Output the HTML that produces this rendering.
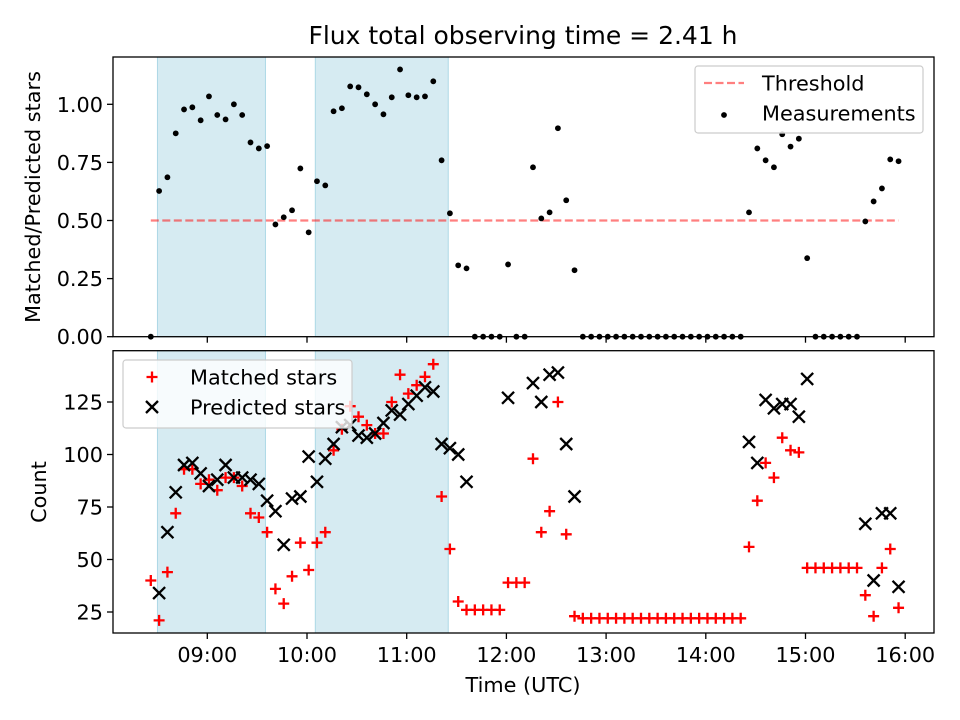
<!DOCTYPE html>
<html><head><meta charset="utf-8"><style>
html,body{margin:0;padding:0;background:#fff;}
svg{display:block;font-family:"DejaVu Sans","Liberation Sans",sans-serif;}
</style></head><body>
<svg id="fig" width="960" height="720" viewBox="0 0 960 720">
<rect width="960" height="720" fill="#fff"/>
<text x="523" y="44" font-size="25" text-anchor="middle">Flux total observing time = 2.41 h</text>
<g id="topPanel"></g>
<g id="botPanel"></g>
<text transform="translate(40,197) rotate(-90)" font-size="20.8" text-anchor="middle">Matched/Predicted stars</text>
<text transform="translate(46,492) rotate(-90)" font-size="20.8" text-anchor="middle">Count</text>
<text x="523" y="692" font-size="20.8" text-anchor="middle">Time (UTC)</text>
</svg>
<script>
const times = ["08:26","08:31","08:36","08:41","08:46","08:51","08:56",
"09:01","09:06","09:11","09:16","09:21","09:26","09:31","09:36","09:41","09:46","09:51","09:56",
"10:01","10:06","10:11","10:16","10:21","10:26","10:31","10:36","10:41","10:46","10:51","10:56",
"11:01","11:06","11:11","11:16","11:21","11:26","11:31","11:36","11:41","11:46","11:51","11:56",
"12:01","12:06","12:11","12:16","12:21","12:26","12:31","12:36","12:41","12:46","12:51","12:56",
"13:01","13:06","13:11","13:16","13:21","13:26","13:31","13:36","13:41","13:46","13:51","13:56",
"14:01","14:06","14:11","14:16","14:21","14:26","14:31","14:36","14:41","14:46","14:51","14:56",
"15:01","15:06","15:11","15:16","15:21","15:26","15:31","15:36","15:41","15:46","15:51","15:56"];
const ratio = [0,.627,.686,.875,.978,.987,.931,1.034,.954,.935,1.0,.954,.836,.81,.82,.483,.514,.544,.724,.449,
.669,.651,.97,.983,1.077,1.073,1.043,1.0,.957,1.03,1.15,1.039,1.03,1.034,1.099,.759,.531,.307,.294,
0,0,0,0,.311,0,0,.729,.509,.535,.897,.587,.286,
0,0,0,0,0,0,0,0,0,0,0,0,0,0,0,0,0,0,0,0,
.535,.81,.759,.729,.871,.818,.852,.338,
0,0,0,0,0,0,
.496,.582,.638,.763,.755];
const matched = [40,21,44,72,93,93,86,88,83,89,89,85,72,70,63,36,29,42,58,45,58,63,102,112,123,118,114,110,110,125,138,129,133,137,143,80,55,30,
26,26,26,26,26,39,39,39,
98,63,73,125,62,23,
22,22,22,22,22,22,22,22,22,22,22,22,22,22,22,22,22,22,22,22,
56,78,96,89,108,102,101,46,
46,46,46,46,46,46,
33,23,46,55,27];
const predicted = [null,34,63,82,95,96,91,85,88,95,89,89,88,86,78,73,57,79,80,99,87,98,105,113,114,109,108,110,115,121,119,124,128,132,130,105,103,100,87,
null,null,null,null,127,null,null,
134,125,138,139,105,80,
null,null,null,null,null,null,null,null,null,null,null,null,null,null,null,null,null,null,null,null,
106,96,126,122,124,124,118,136,
null,null,null,null,null,null,
67,40,72,72,37];
const xTicks = ["09:00","10:00","11:00","12:00","13:00","14:00","15:00","16:00"];
const topTicks = [0,0.25,0.5,0.75,1.0];
const botTicks = [25,50,75,100,125];
const spans = [["08:30","09:35"],["10:05","11:25"]];
const threshold = 0.5;

const NS="http://www.w3.org/2000/svg";
const L=113,R=934;
const hr=s=>{const p=s.split(":");return +p[0]+ +p[1]/60;};
const X=h=>207.3+(h-9)*99.7;
const Ytop=v=>336.7-v*232.4;
const Ybot=v=>612-(v-25)*2.1;
function mk(parent,tag,attrs){const e=document.createElementNS(NS,tag);for(const k in attrs)e.setAttribute(k,attrs[k]);parent.appendChild(e);return e;}
const topG=document.getElementById('topPanel'), botG=document.getElementById('botPanel');
const panels=[[topG,57,336.7],[botG,350.7,633]];
panels.forEach(([g,y0,y1],pi)=>{
  spans.forEach(s=>{
    const r=mk(g,'rect',{x:X(hr(s[0])),y:y0,width:X(hr(s[1]))-X(hr(s[0])),height:y1-y0,fill:'#add8e6','fill-opacity':0.5,stroke:'#add8e6','stroke-width':1});
    
    
  });
});
const th=mk(topG,'line',{x1:X(hr(times[0])),x2:X(hr(times[times.length-1])),y1:Ytop(threshold),y2:Ytop(threshold),stroke:'#ff0000','stroke-opacity':0.5,'stroke-width':2.2,'stroke-dasharray':'8,3.5'});


ratio.forEach((v,i)=>{
  const c=mk(topG,'circle',{cx:X(hr(times[i])),cy:Ytop(v),r:2.9,fill:'#000'});
  
  
});
matched.forEach((v,i)=>{
  const x=X(hr(times[i])),y=Ybot(v);
  const p=mk(botG,'path',{d:`M${x-5.5},${y}H${x+5.5}M${x},${y-5.5}V${y+5.5}`,stroke:'#ff0000','stroke-width':2.3});
  
  
});
predicted.forEach((v,i)=>{
  if(v===null)return;
  const x=X(hr(times[i])),y=Ybot(v);
  const p=mk(botG,'path',{d:`M${x-6},${y-6}L${x+6},${y+6}M${x-6},${y+6}L${x+6},${y-6}`,stroke:'#000','stroke-width':2.3});
  
  
});
panels.forEach(([g,y0,y1],pi)=>{
  const f=mk(g,'rect',{x:L,y:y0,width:R-L,height:y1-y0,fill:'none',stroke:'#000','stroke-width':1.3});
  
  
  xTicks.forEach(t=>{
    const x=X(hr(t));
    const tk=mk(g,'line',{x1:x,x2:x,y1:y1,y2:y1+6,stroke:'#000','stroke-width':1.3});
    
    
    if(pi===1){
      const tx=mk(g,'text',{x:x,y:y1+29,'font-size':20.8,'text-anchor':'middle'});
      tx.textContent=t;
      
      
    }
  });
  const ticks=pi===0?topTicks:botTicks, Y=pi===0?Ytop:Ybot;
  ticks.forEach(v=>{
    const y=Y(v);
    const tk=mk(g,'line',{x1:L-6,x2:L,y1:y,y2:y,stroke:'#000','stroke-width':1.3});
    
    
    const tx=mk(g,'text',{x:L-10,y:y+7.5,'font-size':20.8,'text-anchor':'end'});
    tx.textContent=pi===0?v.toFixed(2):String(v);
    
    
  });
});
function legend(g,x,y,w,h,items,name){
  const lg=mk(g,'g',{});
  
  
  mk(lg,'rect',{x:x,y:y,width:w,height:h,rx:3,fill:'#fff','fill-opacity':0.8,stroke:'#ccc','stroke-width':1.2});
  items.forEach((it,k)=>{
    const cy=y+17+k*30, mx=x+29;
    if(it.t==='dash')mk(lg,'line',{x1:mx-20,x2:mx+20,y1:cy,y2:cy,stroke:'#ff0000','stroke-opacity':0.5,'stroke-width':2.2,'stroke-dasharray':'8,3.5'});
    if(it.t==='dot')mk(lg,'circle',{cx:mx,cy:cy+2,r:2.9,fill:'#000'});
    if(it.t==='plus')mk(lg,'path',{d:`M${mx-5.5},${cy}H${mx+5.5}M${mx},${cy-5.5}V${cy+5.5}`,stroke:'#ff0000','stroke-width':2.3});
    if(it.t==='x')mk(lg,'path',{d:`M${mx-6},${cy-6}L${mx+6},${cy+6}M${mx-6},${cy+6}L${mx+6},${cy-6}`,stroke:'#000','stroke-width':2.3});
    const tx=mk(lg,'text',{x:x+67,y:cy+7.5,'font-size':20.8});
    tx.textContent=it.l;
    
    
  });
}
legend(topG,695,66,228,67,[{t:'dash',l:'Threshold'},{t:'dot',l:'Measurements'}],'top-legend');
legend(botG,123,360,229,68,[{t:'plus',l:'Matched stars'},{t:'x',l:'Predicted stars'}],'bottom-legend');
</script>
</body></html>
